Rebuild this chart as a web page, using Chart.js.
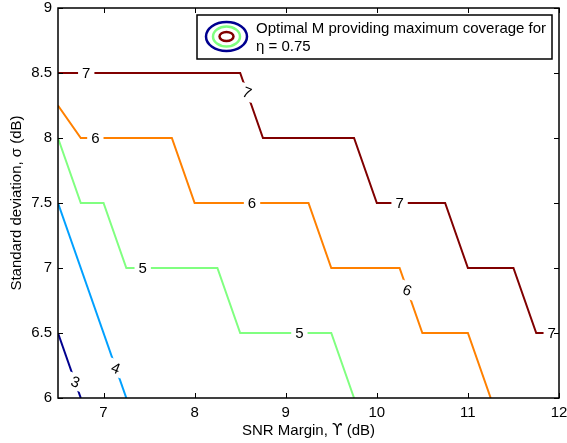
<!DOCTYPE html>
<html>
<head>
<meta charset="utf-8">
<script src="https://cdn.jsdelivr.net/npm/chart.js"></script>
<style>
  body { margin: 0; background: #fff; }
</style>
</head>
<body>
<div style="width:567px;height:443px;">
  <canvas id="myChart" width="567" height="443"></canvas>
</div>

<script>
// contour levels: optimal M
const levels = [3, 4, 5, 6, 7];
const levelColors = ['#00008f', '#00a0ff', '#80ff80', '#ff8000', '#800000'];

// contour paths, SNR margin (x) vs standard deviation (y)
const m3X = [6.5, 6.75];
const m3Y = [6.5, 6];
const m4X = [6.5, 7.25];
const m4Y = [7.5, 6];
const m5X = [6.5, 6.75, 7, 7.25, 8.25, 8.5, 9.5, 9.75];
const m5Y = [8, 7.5, 7.5, 7, 7, 6.5, 6.5, 6];
const m6X = [6.5, 6.75, 7.75, 8, 9.25, 9.5, 10.25, 10.5, 11, 11.25];
const m6Y = [8.25, 8, 8, 7.5, 7.5, 7, 7, 6.5, 6.5, 6];
const m7X = [6.5, 8.5, 8.75, 9.75, 10, 10.75, 11, 11.5, 11.75, 12];
const m7Y = [8.5, 8.5, 8, 8, 7.5, 7.5, 7, 7, 6.5, 6.5];

// inline contour labels
const labelText = ['7', '7', '7', '7', '6', '6', '6', '5', '5', '4', '3'];
const labelX = [6.81, 8.575, 10.25, 11.92, 6.91, 8.63, 10.335, 7.43, 9.15, 7.135, 6.69];
const labelY = [8.5, 8.35, 7.5, 6.5, 8, 7.5, 6.83, 7, 6.5, 6.23, 6.125];
const labelAngle = [0, 22, 0, 0, 0, 0, 22, 0, 0, 22, 20];

const xTicks = [7, 8, 9, 10, 11, 12];
const yTicks = [6, 6.5, 7, 7.5, 8, 8.5, 9];

const FONT = '"Liberation Sans", Arial, Helvetica, sans-serif';
const FS = 15;

function pts(xs, ys) {
  return xs.map((x, i) => ({x: x, y: ys[i]}));
}

const paths = [[m3X, m3Y], [m4X, m4Y], [m5X, m5Y], [m6X, m6Y], [m7X, m7Y]];

const datasets = paths.map((p, i) => ({
  label: 'M = ' + levels[i],
  data: pts(p[0], p[1]),
  borderColor: levelColors[i],
  borderWidth: 2,
  pointRadius: 0,
  fill: false,
  tension: 0
}));

// white-backed labels that break the contour lines
const contourLabels = {
  id: 'contourLabels',
  afterDatasetsDraw(chart) {
    const ctx = chart.ctx;
    const xs = chart.scales.x, ys = chart.scales.y;
    ctx.save();
    ctx.font = FS + 'px ' + FONT;
    ctx.textAlign = 'center';
    ctx.textBaseline = 'middle';
    labelText.forEach((t, i) => {
      const px = xs.getPixelForValue(labelX[i]);
      const py = ys.getPixelForValue(labelY[i]);
      const w = ctx.measureText(t).width + 8;
      ctx.save();
      ctx.translate(px, py);
      ctx.rotate(labelAngle[i] * Math.PI / 180);
      ctx.fillStyle = '#fff';
      ctx.fillRect(-w / 2, -8, w, 16);
      ctx.fillStyle = '#000';
      ctx.fillText(t, 0, 1);
      ctx.restore();
    });
    ctx.restore();
  }
};

// boxed axes with inward ticks, x title with the upsilon symbol, legend box
const frame = {
  id: 'frame',
  afterDraw(chart) {
    const ctx = chart.ctx;
    const a = chart.chartArea;
    const xs = chart.scales.x, ys = chart.scales.y;
    const tl = 5;
    ctx.save();
    ctx.strokeStyle = '#000';
    ctx.lineWidth = 1;
    ctx.beginPath();
    xTicks.forEach(v => {
      const px = Math.round(xs.getPixelForValue(v)) + 0.5;
      ctx.moveTo(px, a.bottom); ctx.lineTo(px, a.bottom - tl);
      ctx.moveTo(px, a.top); ctx.lineTo(px, a.top + tl);
    });
    yTicks.forEach(v => {
      const py = Math.round(ys.getPixelForValue(v)) + 0.5;
      ctx.moveTo(a.left, py); ctx.lineTo(a.left + tl, py);
      ctx.moveTo(a.right, py); ctx.lineTo(a.right - tl, py);
    });
    ctx.stroke();
    ctx.lineWidth = 1.5;
    ctx.strokeRect(a.left, a.top, a.right - a.left, a.bottom - a.top);

    // x axis title, symbol set in DejaVu so it keeps its hooked arms
    const parts = [['SNR Margin, ', FONT], ['\u03d2', '"DejaVu Sans"'], [' (dB)', FONT]];
    let total = 0;
    parts.forEach(p => { ctx.font = FS + 'px ' + p[1]; total += ctx.measureText(p[0]).width; });
    let tx = (a.left + a.right) / 2 - total / 2;
    ctx.fillStyle = '#000';
    ctx.textAlign = 'left';
    ctx.textBaseline = 'middle';
    parts.forEach(p => {
      ctx.font = FS + 'px ' + p[1];
      ctx.fillText(p[0], tx, 431);
      tx += ctx.measureText(p[0]).width;
    });

    // legend
    const bx = 197, by = 15, bw = 355, bh = 44;
    ctx.fillStyle = '#fff';
    ctx.fillRect(bx, by, bw, bh);
    ctx.lineWidth = 1.5;
    ctx.strokeRect(bx, by, bw, bh);
    const cx = 226.5, cy = 36.5;
    const rings = [[20.5, 14.5, levelColors[0]], [13.5, 10, levelColors[2]], [7, 4.5, levelColors[4]]];
    ctx.lineWidth = 2.5;
    rings.forEach(r => {
      ctx.strokeStyle = r[2];
      ctx.beginPath();
      ctx.ellipse(cx, cy, r[0], r[1], 0, 0, Math.PI * 2);
      ctx.stroke();
    });
    ctx.fillStyle = '#000';
    ctx.font = FS + 'px ' + FONT;
    ctx.fillText('Optimal M providing maximum coverage for', 256, 29);
    ctx.fillText('\u03b7 = 0.75', 256, 47);
    ctx.restore();
  }
};

const config = {
  type: 'line',
  data: { datasets: datasets },
  options: {
    responsive: false,
    animation: false,
    layout: { padding: { top: 8, right: 8, left: 0, bottom: 0 } },
    plugins: {
      legend: { display: false },
      tooltip: { enabled: false }
    },
    scales: {
      x: {
        type: 'linear',
        min: 6.5,
        max: 12,
        afterBuildTicks: s => { s.ticks = xTicks.map(v => ({value: v})); },
        afterFit: s => { s.height = 45; s.paddingLeft = 0; s.paddingRight = 0; },
        grid: { display: false, drawTicks: false },
        border: { display: false },
        ticks: {
          color: '#000',
          font: { family: FONT, size: FS },
          padding: 6,
          maxRotation: 0,
          callback: v => String(v)
        }
      },
      y: {
        type: 'linear',
        min: 6,
        max: 9,
        afterBuildTicks: s => { s.ticks = yTicks.map(v => ({value: v})); },
        afterFit: s => { s.width = 58; s.paddingTop = 0; s.paddingBottom = 0; },
        grid: { display: false, drawTicks: false },
        border: { display: false },
        ticks: {
          color: '#000',
          font: { family: FONT, size: FS },
          padding: 6,
          callback: v => String(v)
        },
        title: {
          display: true,
          text: 'Standard deviation, \u03c3 (dB)',
          color: '#000',
          font: { family: FONT, size: FS },
          padding: { top: 8, bottom: 0 }
        }
      }
    }
  },
  plugins: [contourLabels, frame]
};

var myChart = new Chart(document.getElementById('myChart'), config);
</script>
</body>
</html>
